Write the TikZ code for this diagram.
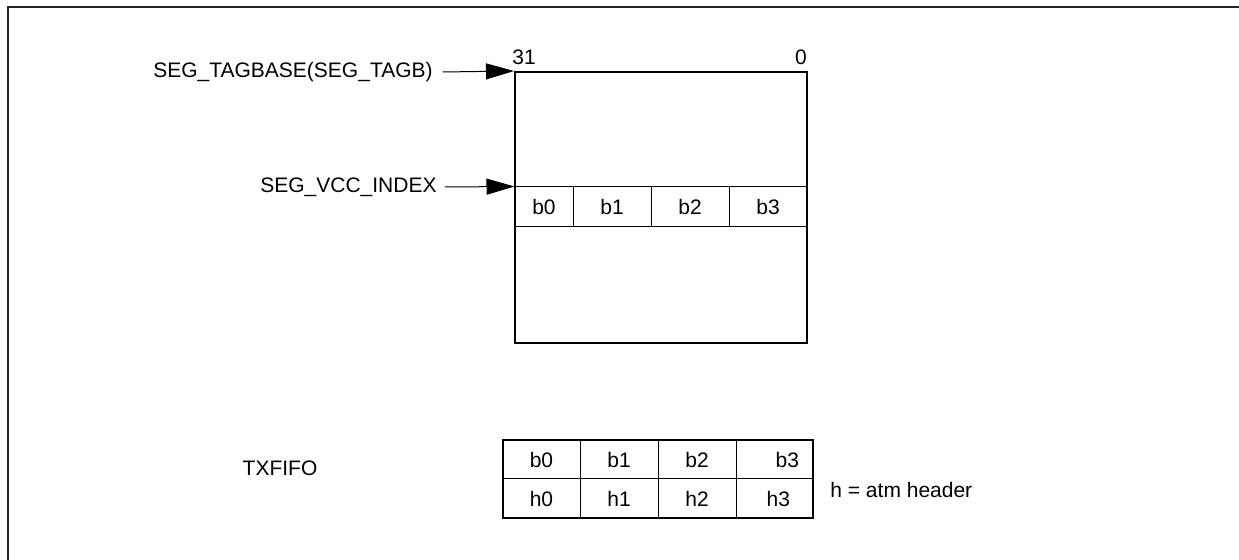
\documentclass[tikz,border=0pt]{standalone}
\usepackage{fontspec}
\setmainfont{Liberation Sans}
\usetikzlibrary{arrows.meta}

\begin{document}
\begin{tikzpicture}[x=0.5pt,y=-0.5pt,>={Triangle[length=14pt,width=8pt]},font=\fontsize{10.5}{12}\selectfont,line cap=round,
  frame/.style={line width=1pt,black!85,line cap=butt},
  outerbox/.style={draw,line width=1pt,inner sep=0pt},
  cell/.style={draw,line width=0.5pt,inner sep=0pt,minimum height=19.5pt},
  txt/.style={inner sep=0pt}]
\useasboundingbox (0,0) rectangle (1239,560);
\draw[frame] (8,560) -- (8,7) -- (1239,7);
\node[outerbox,minimum width=146pt,minimum height=135.5pt] (mem) at (661,207.5) {};
\node[cell,minimum width=29pt,minimum height=20pt] (rb0) at (544,207) {b0};
\node[cell,minimum width=39pt,minimum height=20pt] (rb1) at (612,207) {b1};
\node[cell,minimum width=39pt,minimum height=20pt] (rb2) at (690,207) {b2};
\node[cell,minimum width=39pt,minimum height=20pt] (rb3) at (768,207) {b3};
\node[txt] (bit31) at (524,57) {31};
\node[txt] (bit0) at (801,57) {0};
\node[txt,anchor=east] (tagbase) at (433,72) {SEG\_TAGBASE(SEG\_TAGB)};
\node[txt,anchor=east] (vccidx) at (437,187) {SEG\_VCC\_INDEX};
\draw[->,line width=0.5pt] ([xshift=5pt]tagbase.east) -- (mem.north west);
\draw[->,line width=0.5pt] ([xshift=4pt]vccidx.east) -- (rb0.north west);
\node[outerbox,minimum width=155pt,minimum height=39pt] (fifo) at (658,479) {};
\node[cell,minimum width=38.5pt] (fb0) at (541.5,459.5) {b0};
\node[cell,minimum width=39pt] (fb1) at (619,459.5) {b1};
\node[cell,minimum width=39pt] (fb2) at (697,459.5) {b2};
\node[cell,minimum width=38.5pt,text width=24.5pt,align=right] (fb3) at (774.5,459.5) {b3};
\node[cell,minimum width=38.5pt] (fh0) at (541.5,498.5) {h0};
\node[cell,minimum width=39pt] (fh1) at (619,498.5) {h1};
\node[cell,minimum width=39pt] (fh2) at (697,498.5) {h2};
\node[cell,minimum width=38.5pt,text width=15.5pt,align=right] (fh3) at (774.5,498.5) {h3};
\node[outerbox,minimum width=155pt,minimum height=39pt] at (fifo) {};
\node[txt] (txfifo) at (280,468) {TXFIFO};
\node[txt,anchor=west] (hdrnote) at (830,490) {h = atm header};
\end{tikzpicture}
\end{document}
